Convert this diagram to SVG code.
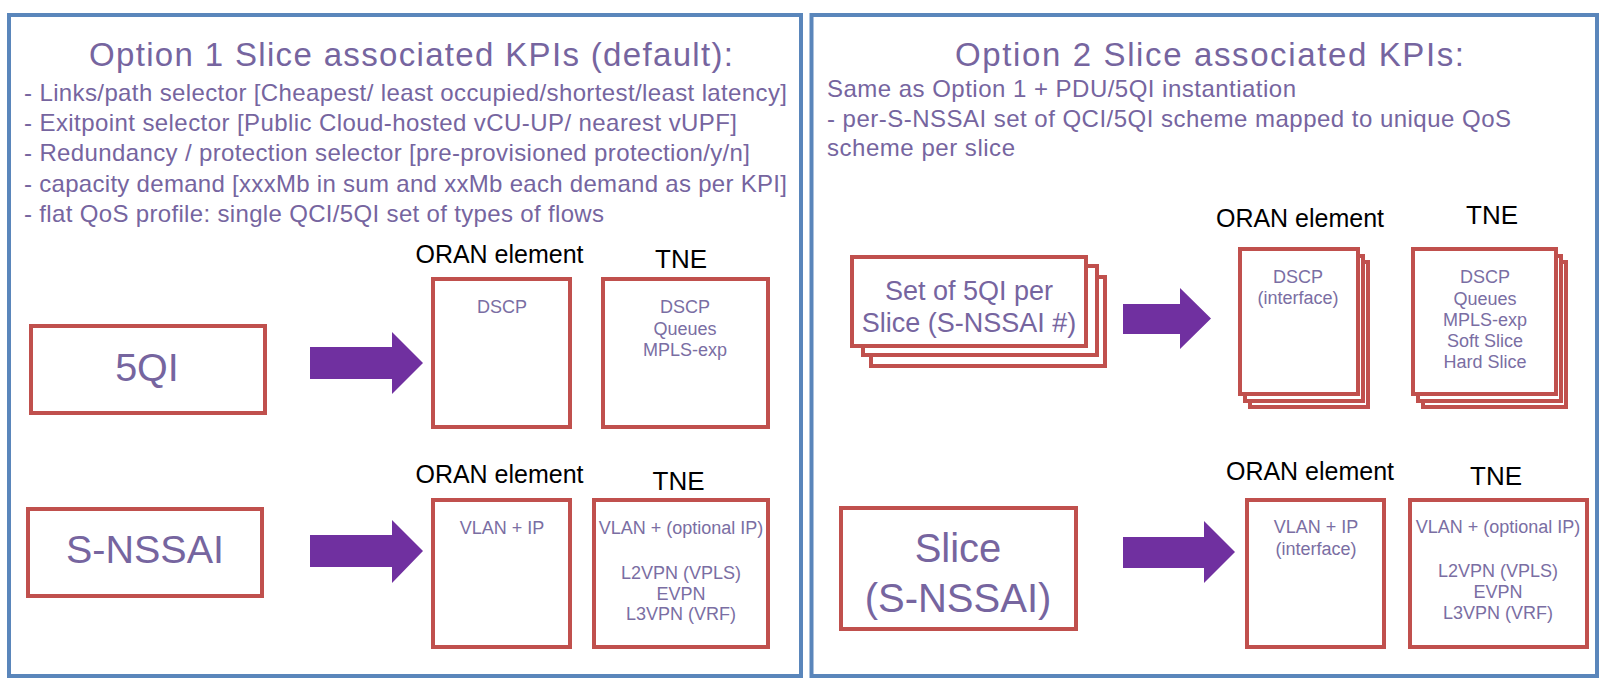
<svg xmlns="http://www.w3.org/2000/svg" width="1604" height="688" viewBox="0 0 1604 688">
<style>
.panel{fill:#fff;stroke:#5a86bb;stroke-width:4}
.box{fill:#fff;stroke:#c0504d;stroke-width:4}
.t{font-family:"Liberation Sans",Arial,Helvetica,sans-serif;fill:#76659f}
.title{font-size:33px}
.kpi{font-size:24px}
.big{font-size:39.5px;text-anchor:middle}
.mid{font-size:27px;text-anchor:middle}
.in{font-size:18px;text-anchor:middle;fill:#7a6ea3}
.lab{font-family:"Liberation Sans",Arial,Helvetica,sans-serif;font-size:25px;fill:#000;text-anchor:middle}
.arrow{fill:#7030a0}
</style>
<rect x="0" y="0" width="1604" height="688" fill="#fff"/>

<g id="panel-option1">
  <rect class="panel" x="9" y="15" width="792" height="661"/>
  <text class="t title" x="89" y="66" textLength="644">Option 1 Slice associated KPIs (default):</text>
  <text class="t kpi" x="24" y="101" textLength="763">- Links/path selector [Cheapest/ least occupied/shortest/least latency]</text>
  <text class="t kpi" x="24" y="131" textLength="713">- Exitpoint selector [Public Cloud-hosted vCU-UP/ nearest vUPF]</text>
  <text class="t kpi" x="24" y="161" textLength="726">- Redundancy / protection selector [pre-provisioned protection/y/n]</text>
  <text class="t kpi" x="24" y="191.5" textLength="763">- capacity demand [xxxMb in sum and xxMb each demand as per KPI]</text>
  <text class="t kpi" x="24" y="221.5" textLength="580">- flat QoS profile: single QCI/5QI set of types of flows</text>
</g>

<g id="panel-option2">
  <rect class="panel" x="811.5" y="15" width="785.5" height="661"/>
  <text class="t title" x="955" y="66" textLength="509">Option 2 Slice associated KPIs:</text>
  <text class="t kpi" x="827" y="97" textLength="469">Same as Option 1 + PDU/5QI instantiation</text>
  <text class="t kpi" x="827" y="126.5" textLength="684">- per-S-NSSAI set of QCI/5QI scheme mapped to unique QoS</text>
  <text class="t kpi" x="827" y="156" textLength="188">scheme per slice</text>
</g>

<g id="node-5qi">
  <rect class="box" x="31" y="326" width="234" height="87"/>
  <text class="t big" x="147" y="381">5QI</text>
</g>
<g id="node-oran1">
  <text class="lab" x="499.5" y="263">ORAN element</text>
  <rect class="box" x="433" y="279" width="137" height="148"/>
  <text class="t in" x="502" y="313">DSCP</text>
</g>
<g id="node-tne1">
  <text class="lab" x="681" y="268" style="font-size:26px">TNE</text>
  <rect class="box" x="603" y="279" width="165" height="148"/>
  <text class="t in" x="685" y="313">DSCP</text>
  <text class="t in" x="685" y="335">Queues</text>
  <text class="t in" x="685" y="356">MPLS-exp</text>
</g>

<g id="node-snssai">
  <rect class="box" x="28" y="509" width="234" height="87"/>
  <text class="t big" x="145" y="563">S-NSSAI</text>
</g>
<g id="node-oran2">
  <text class="lab" x="499.5" y="483">ORAN element</text>
  <rect class="box" x="433" y="500" width="137" height="147"/>
  <text class="t in" x="502" y="534">VLAN + IP</text>
</g>
<g id="node-tne2">
  <text class="lab" x="678.5" y="490" style="font-size:26px">TNE</text>
  <rect class="box" x="594" y="500" width="174" height="147"/>
  <text class="t in" x="681" y="534">VLAN + (optional IP)</text>
  <text class="t in" x="681" y="579">L2VPN (VPLS)</text>
  <text class="t in" x="681" y="599.5">EVPN</text>
  <text class="t in" x="681" y="620">L3VPN (VRF)</text>
</g>

<g id="node-set5qi">
  <rect class="box" x="871" y="277" width="234" height="89"/>
  <rect class="box" x="863" y="266" width="234" height="89"/>
  <rect class="box" x="852" y="257" width="234" height="89"/>
  <text class="t mid" x="969" y="300">Set of 5QI per</text>
  <text class="t mid" x="969" y="332">Slice (S-NSSAI #)</text>
</g>
<g id="node-oran3">
  <text class="lab" x="1300" y="227">ORAN element</text>
  <rect class="box" x="1250" y="262" width="118" height="145"/>
  <rect class="box" x="1245" y="256" width="118" height="145"/>
  <rect class="box" x="1240" y="249" width="118" height="145"/>
  <text class="t in" x="1298" y="283">DSCP</text>
  <text class="t in" x="1298" y="304">(interface)</text>
</g>
<g id="node-tne3">
  <text class="lab" x="1492" y="224" style="font-size:26px">TNE</text>
  <rect class="box" x="1423" y="262" width="143" height="145"/>
  <rect class="box" x="1418" y="256" width="143" height="145"/>
  <rect class="box" x="1413" y="249" width="143" height="145"/>
  <text class="t in" x="1485" y="283">DSCP</text>
  <text class="t in" x="1485" y="304.5">Queues</text>
  <text class="t in" x="1485" y="325.5">MPLS-exp</text>
  <text class="t in" x="1485" y="347">Soft Slice</text>
  <text class="t in" x="1485" y="368">Hard Slice</text>
</g>

<g id="node-slice">
  <rect class="box" x="841" y="508" width="235" height="121"/>
  <text class="t" x="958" y="562" style="font-size:40px;text-anchor:middle">Slice</text>
  <text class="t" x="958" y="612" style="font-size:40px;text-anchor:middle">(S-NSSAI)</text>
</g>
<g id="node-oran4">
  <text class="lab" x="1310" y="480">ORAN element</text>
  <rect class="box" x="1247" y="500" width="137" height="147"/>
  <text class="t in" x="1316" y="533">VLAN + IP</text>
  <text class="t in" x="1316" y="555">(interface)</text>
</g>
<g id="node-tne4">
  <text class="lab" x="1496" y="485" style="font-size:26px">TNE</text>
  <rect class="box" x="1410" y="500" width="177" height="147"/>
  <text class="t in" x="1498" y="533">VLAN + (optional IP)</text>
  <text class="t in" x="1498" y="577">L2VPN (VPLS)</text>
  <text class="t in" x="1498" y="598">EVPN</text>
  <text class="t in" x="1498" y="619">L3VPN (VRF)</text>
</g>

<g id="connectors">
  <path class="arrow" d="M310,347 H392 V332 L423,363 L392,394 V379 H310 Z"/>
  <path class="arrow" d="M310,535 H392 V520 L423,551 L392,583 V567 H310 Z"/>
  <path class="arrow" d="M1123,304 H1180 V288 L1211,318.5 L1180,349 V334 H1123 Z"/>
  <path class="arrow" d="M1123,537 H1204 V521 L1235,552 L1204,583 V568 H1123 Z"/>
</g>
</svg>
